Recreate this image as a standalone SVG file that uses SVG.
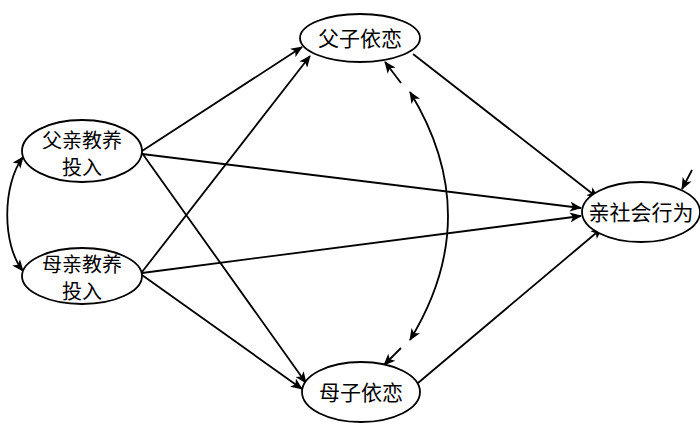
<svg xmlns="http://www.w3.org/2000/svg" width="700" height="426" viewBox="0 0 700 426">
<defs>
<marker id="ah" viewBox="0 0 12 10" refX="11" refY="5" markerWidth="13" markerHeight="10" markerUnits="userSpaceOnUse" orient="auto-start-reverse">
<path d="M0,0 L12,5 L0,10 L3,5 z" fill="#000"/>
</marker>
</defs>
<style>
.n ellipse{fill:#fff;stroke:#000;stroke-width:1.8}
.n text{font-family:"Noto Sans CJK SC","Noto Sans CJK JP",sans-serif;font-size:20px;text-anchor:middle;fill:#000}
.n text.big{font-size:21px}
.c path,.c line{fill:none;stroke:#000;stroke-width:1.8;marker-end:url(#ah)}
.c .dbl{marker-start:url(#ah)}
</style>
<rect width="700" height="426" fill="#fff"/>
<g class="c" id="connectors">
<line x1="142" y1="151" x2="302" y2="47"/>
<line x1="142" y1="153" x2="306" y2="383"/>
<line x1="142" y1="154" x2="581" y2="208"/>
<line x1="142" y1="272" x2="310" y2="56"/>
<line x1="142" y1="275" x2="302" y2="389"/>
<line x1="142" y1="273" x2="581" y2="216"/>
<line x1="413" y1="54" x2="598" y2="198"/>
<line x1="418" y1="383" x2="602" y2="228"/>
<path class="dbl" d="M23,157 C2,185 2,245 23,271"/>
<path class="dbl" d="M410,92 Q486,216 410,340"/>
<line x1="401" y1="83" x2="385" y2="62"/>
<line x1="401" y1="348" x2="384" y2="365"/>
<line x1="692" y1="170" x2="682" y2="189"/>
</g>
<g class="n" id="father_invest">
<ellipse cx="82" cy="151" rx="60" ry="31"/>
<text x="82" y="148">父亲教养</text>
<text x="82" y="175">投入</text>
</g>
<g class="n" id="mother_invest">
<ellipse cx="82" cy="276" rx="60" ry="28"/>
<text x="82" y="272">母亲教养</text>
<text x="82" y="299">投入</text>
</g>
<g class="n" id="father_attach">
<ellipse cx="360" cy="38" rx="60" ry="24"/>
<text class="big" x="360" y="46">父子依恋</text>
</g>
<g class="n" id="mother_attach">
<ellipse cx="361" cy="392" rx="59" ry="30"/>
<text class="big" x="361" y="400">母子依恋</text>
</g>
<g class="n" id="prosocial">
<ellipse cx="641" cy="212" rx="59" ry="30"/>
<text class="big" x="641" y="220">亲社会行为</text>
</g>
</svg>
